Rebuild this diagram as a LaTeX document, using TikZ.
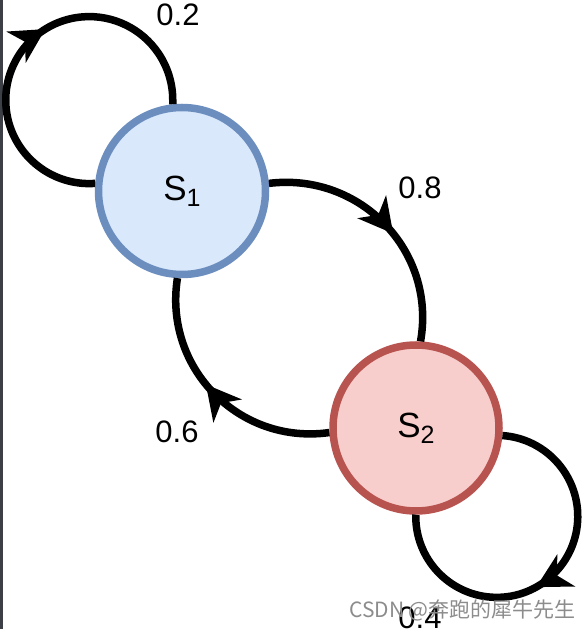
\documentclass[tikz,border=0pt]{standalone}
\usepackage{fontspec}
\setmainfont{Liberation Sans}
\newfontfamily\cjkfont{Noto Sans CJK SC}
\usetikzlibrary{arrows.meta,decorations.markings}
\definecolor{sOneFill}{HTML}{DAE8FC}
\definecolor{sOneLine}{HTML}{6C8EBF}
\definecolor{sTwoFill}{HTML}{F8CECC}
\definecolor{sTwoLine}{HTML}{B85450}
\definecolor{wmgray}{HTML}{8C8C8C}
\definecolor{stripgray}{HTML}{3C3F46}
\tikzset{midtip/.tip={Stealth[length=34pt,width=36pt,inset=10pt]}}
\begin{document}
\begin{tikzpicture}[x=1pt,y=1pt,
  state/.style={circle, line width=7.5pt, minimum size=167pt, inner sep=0pt},
  edge/.style={line width=7.5pt, postaction={decorate},
    decoration={markings, mark=at position 0.55 with {\arrow{midtip}}}},
  lbl/.style={font=\fontsize{31}{31}\selectfont, inner sep=0pt},
  slbl/.style={font=\fontsize{35}{35}\selectfont}
]
\useasboundingbox (0,0) rectangle (583,629);
\clip (0,0) rectangle (583,629);
\fill[stripgray] (0,0) rectangle (2.5,629);

\node[state, slbl, fill=sOneFill, draw=sOneLine] (s1) at (182,438)
  {S\raisebox{-6pt}{\fontsize{25}{25}\selectfont 1}};
\node[state, slbl, fill=sTwoFill, draw=sTwoLine, minimum size=166pt] (s2) at (416,201)
  {S\raisebox{-6pt}{\fontsize{25}{25}\selectfont 2}};

\draw[edge] (s1.175) arc[start angle=274, end angle=0, radius=83.5] -- (s1.96);
\draw[edge] (s1.5) .. controls +(7:92) and +(80:92) .. (s2.87);
\draw[edge] (s2.183) .. controls +(188:91) and +(-99:91) .. (s1.267);
\draw[edge] (s2.355) arc[start angle=86, end angle=-180, radius=81] -- (s2.270);

\node[lbl] (p02) at (178,614) {0.2};
\node[lbl] (p08) at (420,441.5) {0.8};
\node[lbl] (p06) at (177,197) {0.6};
\node[lbl] (p04) at (420,11) {0.4};

\node[font=\cjkfont\fontsize{21}{21}\selectfont, text=wmgray, inner sep=0pt] (wm) at (462.5,19) {CSDN @奔跑的犀牛先生};
\end{tikzpicture}
\end{document}
